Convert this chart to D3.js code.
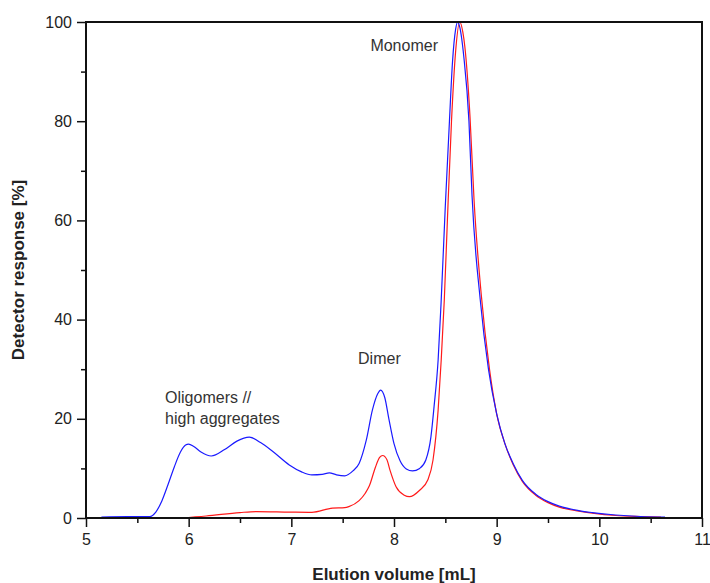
<!DOCTYPE html>
<html><head><meta charset="utf-8">
<script src="https://cdn.jsdelivr.net/npm/d3@7"></script>
<style>body{margin:0;background:#fff}svg{display:block}text{font-family:"Liberation Sans",Arial,sans-serif}</style>
</head><body><svg id="c" width="710" height="583"></svg>
<script>
// Blue trace: sample with oligomers / high aggregates
const blueVol = [5.15,5.4,5.62,5.68,5.74,5.8,5.86,5.92,5.97,6.0,6.05,6.12,6.22,6.35,6.47,6.59,6.7,6.82,6.98,7.1,7.2,7.3,7.37,7.44,7.52,7.6,7.66,7.73,7.79,7.84,7.87,7.91,7.95,8.0,8.06,8.12,8.18,8.25,8.31,8.36,8.39,8.43,8.46,8.5,8.54,8.57,8.6,8.62,8.64,8.68,8.73,8.76,8.84,8.92,9.0,9.08,9.16,9.25,9.38,9.5,9.61,9.8,9.93,10.16,10.4,10.64];
const blueResp = [0.2,0.3,0.3,1.2,3.5,6.8,10.3,13.3,14.7,14.9,14.4,13.3,12.5,13.8,15.5,16.3,15.2,13.4,10.7,9.3,8.7,8.8,9.1,8.7,8.5,9.5,11,15.7,21.8,25,25.8,24.3,20,15,11.5,9.9,9.5,10,11.7,16.4,22.4,31.9,44,63,80,92,98.5,100,99,93,80,65,44,30,21,15,11,7.6,4.8,3.3,2.4,1.5,1.1,0.6,0.3,0.2];
// Red trace: control
const redVol = [5.92,6.17,6.5,6.66,6.98,7.2,7.4,7.52,7.56,7.66,7.72,7.76,7.82,7.86,7.89,7.93,7.96,8.02,8.1,8.15,8.25,8.33,8.38,8.43,8.46,8.49,8.52,8.56,8.6,8.64,8.67,8.69,8.74,8.78,8.85,8.93,9.0,9.08,9.16,9.25,9.38,9.5,9.61,9.8,9.93,10.16,10.4,10.6];
const redResp = [0,0.4,1.1,1.3,1.2,1.15,2.0,2.1,2.3,3.5,5,6.5,10.3,12.2,12.6,11.8,9.7,6.3,4.6,4.3,5.6,7.7,11.7,21.8,31.9,44,60,80,94,100,98,95,81,64,45,30,21,15,10.8,7.4,4.6,3.1,2.2,1.4,1.0,0.5,0.3,0.2];
const xTicks = [5,6,7,8,9,10,11];
const yTicks = [0,20,40,60,80,100];
const annotations = [
  {lines:["Monomer"], x:7.77, y:94.2},
  {lines:["Dimer"], x:7.65, y:31},
  {lines:["Oligomers //","high aggregates"], x:5.77, y:23.2}
];

const svg = d3.select("#c");
const L=86,R=702,T=22,B=518;
const x = d3.scaleLinear().domain([5,11]).range([L,R]);
const y = d3.scaleLinear().domain([0,100]).range([B,T]);

const line = d3.line().x(d=>x(d[0])).y(d=>y(d[1])).curve(d3.curveMonotoneX);
const red = redVol.map((v,i)=>[v,redResp[i]]);
const blue = blueVol.map((v,i)=>[v,blueResp[i]]);
svg.append("path").attr("d",line(red)).attr("fill","none").attr("stroke","#ff1a1a").attr("stroke-width",1.2);
svg.append("path").attr("d",line(blue)).attr("fill","none").attr("stroke","#1a1aff").attr("stroke-width",1.2);

// minor ticks
const gx = svg.append("g").attr("transform",`translate(0,${B})`);
gx.call(d3.axisBottom(x).tickValues(d3.range(5.5,11,1)).tickSize(5).tickFormat(""));
const gx2 = svg.append("g").attr("transform",`translate(0,${B})`);
gx2.call(d3.axisBottom(x).tickValues(xTicks).tickSize(9).tickPadding(7).tickFormat(d3.format("d")));
const gy = svg.append("g").attr("transform",`translate(${L},0)`);
gy.call(d3.axisLeft(y).tickValues(d3.range(10,100,20)).tickSize(5).tickFormat(""));
const gy2 = svg.append("g").attr("transform",`translate(${L},0)`);
gy2.call(d3.axisLeft(y).tickValues(yTicks).tickSize(9).tickPadding(5).tickFormat(d3.format("d")));
svg.selectAll(".domain").remove();
svg.selectAll(".tick line").attr("stroke","#111").attr("stroke-width",1.5);
svg.selectAll(".tick text").attr("font-size",16).attr("fill","#222").attr("font-family","Liberation Sans, Arial, sans-serif");

// frame
svg.append("rect").attr("x",L).attr("y",T).attr("width",R-L).attr("height",B-T).attr("fill","none").attr("stroke","#111").attr("stroke-width",2);

// titles
svg.append("text").attr("x",(L+R)/2).attr("y",580).attr("text-anchor","middle").attr("font-size",17).attr("font-weight","bold").attr("fill","#222").text("Elution volume [mL]");
svg.append("text").attr("transform",`translate(24,${(T+B)/2}) rotate(-90)`).attr("text-anchor","middle").attr("font-size",17).attr("font-weight","bold").attr("fill","#222").text("Detector response [%]");

// annotations
annotations.forEach(a=>{
  const t = svg.append("text").attr("font-size",16).attr("fill","#333");
  a.lines.forEach((s,i)=>{
    t.append("tspan").attr("x",x(a.x)).attr("y",y(a.y)+i*21).attr("text-anchor","start").text(s);
  });
});
</script></body></html>
